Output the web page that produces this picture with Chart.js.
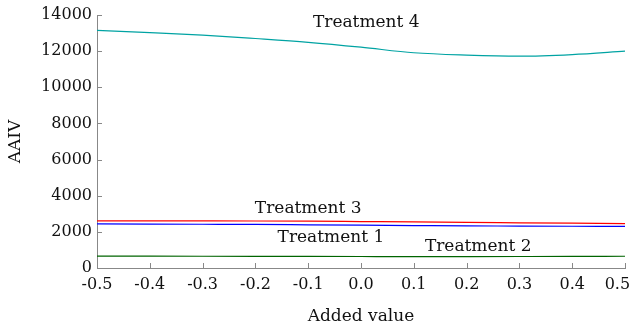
<!DOCTYPE html>
<html>
<head>
<meta charset="utf-8">
<script src="https://cdn.jsdelivr.net/npm/chart.js@4.4.0/dist/chart.umd.min.js"></script>
<style>
  html, body { margin: 0; padding: 0; background: #fff; }
  #wrap { width: 630px; height: 327px; }
</style>
</head>
<body>
<div id="wrap"><canvas id="myChart" width="630" height="327"></canvas></div>
<script>
const addedValues = [-0.5, -0.4, -0.3, -0.2, -0.1, 0.0, 0.1, 0.2, 0.3, 0.4, 0.5]
const treatment1 = [2440, 2430, 2420, 2410, 2390, 2370, 2350, 2330, 2320, 2310, 2300]
const treatment2 = [660, 655, 650, 645, 640, 635, 630, 630, 635, 640, 650]
const treatment3 = [2610, 2610, 2605, 2600, 2590, 2570, 2550, 2520, 2500, 2480, 2460]
const treatment4 = [13150, 13030, 12890, 12700, 12490, 12220, 11910, 11780, 11720, 11810, 12000]
const seriesNames = ['Treatment 1', 'Treatment 2', 'Treatment 3', 'Treatment 4']
// where each series name is written, in data units
const labelAnchors = [[-0.057, 1680], [0.222, 1180], [-0.1, 3290], [0.01, 13570]]

const serif = "'DejaVu Serif', 'Liberation Serif', serif"

function toPoints(ys) {
  return ys.map(function(y, i) { return { x: addedValues[i], y: y } })
}

// series names drawn inside the plot
const seriesLabels = {
  id: 'seriesLabels',
  afterDatasetsDraw(chart) {
    const c = chart.ctx
    const xs = chart.scales.x, ys = chart.scales.y
    c.save()
    c.font = '17px ' + serif
    c.fillStyle = '#111'
    c.textAlign = 'center'
    c.textBaseline = 'middle'
    seriesNames.forEach(function(name, i) {
      c.fillText(name, xs.getPixelForValue(labelAnchors[i][0]), ys.getPixelForValue(labelAnchors[i][1]))
    })
    c.restore()
  }
}

// short tick marks pointing into the plot
const innerTicks = {
  id: 'innerTicks',
  afterDraw(chart) {
    const c = chart.ctx
    const xs = chart.scales.x, ys = chart.scales.y
    const a = chart.chartArea
    c.save()
    c.strokeStyle = '#888'
    c.lineWidth = 1
    c.beginPath()
    xs.ticks.forEach(function(t) {
      const px = Math.round(xs.getPixelForValue(t.value)) + 0.5
      c.moveTo(px, a.bottom)
      c.lineTo(px, a.bottom - 5)
    })
    ys.ticks.forEach(function(t) {
      const py = Math.round(ys.getPixelForValue(t.value)) + 0.5
      c.moveTo(a.left, py)
      c.lineTo(a.left + 5, py)
    })
    c.stroke()
    c.restore()
  }
}

const ctx = document.getElementById('myChart')
new Chart(ctx, {
  type: 'line',
  data: {
    datasets: [
      { label: seriesNames[0], data: toPoints(treatment1), borderColor: '#0000ff' },
      { label: seriesNames[1], data: toPoints(treatment2), borderColor: '#006400' },
      { label: seriesNames[2], data: toPoints(treatment3), borderColor: '#ff0000' },
      { label: seriesNames[3], data: toPoints(treatment4), borderColor: '#00a3a3' }
    ]
  },
  options: {
    responsive: false,
    animation: false,
    devicePixelRatio: 1,
    layout: { padding: { left: 0, right: 5, top: 15, bottom: 0 } },
    elements: {
      line: { borderWidth: 1.2, tension: 0.4, fill: false, cubicInterpolationMode: 'monotone' },
      point: { radius: 0 }
    },
    plugins: {
      legend: { display: false },
      tooltip: { enabled: false }
    },
    scales: {
      x: {
        type: 'linear',
        min: -0.5,
        max: 0.5,
        border: { color: '#888', width: 1 },
        grid: { display: false, drawTicks: false },
        ticks: {
          stepSize: 0.1,
          padding: 7,
          color: '#111',
          font: { family: serif, size: 16 },
          maxRotation: 0,
          autoSkip: false,
          callback: function(v) {
            const s = Number(v).toFixed(1)
            return s === '0.5' ? s + '   ' : s
          }
        },
        title: {
          display: true,
          text: 'Added value',
          color: '#111',
          font: { family: serif, size: 17 },
          padding: { top: 10, bottom: 0 }
        },
        afterFit: function(s) { s.height = 59; s.paddingRight = 0 }
      },
      y: {
        min: 0,
        max: 14000,
        border: { color: '#888', width: 1 },
        grid: { display: false, drawTicks: false },
        ticks: {
          stepSize: 2000,
          padding: 5,
          color: '#111',
          font: { family: serif, size: 16 },
          callback: function(v) { return String(v) }
        },
        title: {
          display: true,
          text: 'AAIV',
          color: '#111',
          font: { family: serif, size: 17 },
          padding: { top: 5, bottom: 4 }
        },
        afterFit: function(s) { s.width = 97 }
      }
    }
  },
  plugins: [seriesLabels, innerTicks]
})
</script>
</body>
</html>
